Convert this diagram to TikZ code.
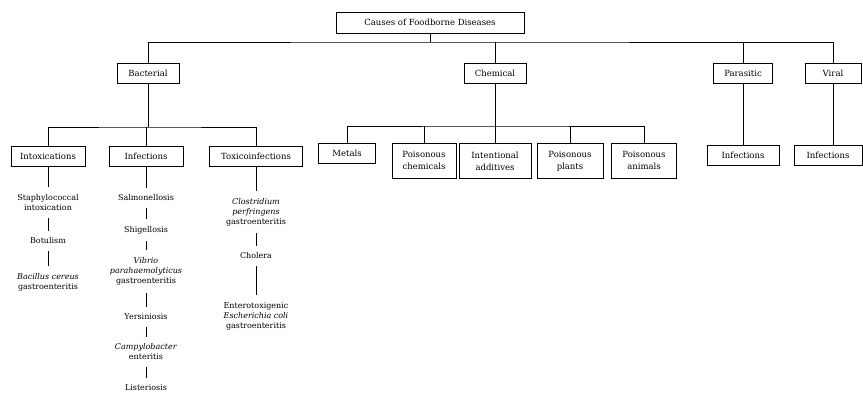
\documentclass[tikz,border=0pt]{standalone}
\usepackage{fontspec}
\setmainfont{DejaVu Serif}
\usepackage{tikz}

\tikzset{
  box/.style={draw, line width=0.7pt, align=center, minimum height=20pt, inner sep=2pt, font=\fontsize{8.5}{12}\selectfont},
  leaf/.style={align=center, inner sep=1pt, font=\fontsize{8}{10}\selectfont},
  stem/.style={line width=0.7pt, shorten >=6pt},
  chain/.style={line width=0.7pt, shorten <=6pt, shorten >=6pt},
}

\begin{document}
\begin{tikzpicture}[x=1pt,y=-1pt]
\useasboundingbox (0,0) rectangle (863,393);

% top of the tree
\node[box, minimum width=188, minimum height=21] (root) at (430,22.5) {Causes of Foodborne Diseases};

\node[box, minimum width=62] (bac) at (148,73) {Bacterial};
\node[box, minimum width=62] (chem) at (495,73) {Chemical};
\node[box, minimum width=59] (para) at (743,73) {Parasitic};
\node[box, minimum width=56] (vir) at (833,73) {Viral};

\coordinate (bus1) at (430,42);
\draw[line width=0.7pt] (root.south) -- (bus1);
\draw[line width=0.7pt] (bac.north) |- (bus1) -| (vir.north);
\draw[line width=0.7pt] (bus1 -| chem.north) -- (chem.north);
\draw[line width=0.7pt] (bus1 -| para.north) -- (para.north);

% bacterial
\node[box, minimum width=74] (intox) at (48,156) {Intoxications};
\node[box, minimum width=74] (binf) at (146,156) {Infections};
\node[box, minimum width=93] (toxi) at (256,156) {Toxicoinfections};

\coordinate (bus2) at (148,127);
\draw[line width=0.7pt] (bac.south) -- (bus2);
\draw[line width=0.7pt] (intox.north) |- (bus2) -| (toxi.north);
\draw[line width=0.7pt] (binf.north) -- (binf.north |- bus2);

% chemical
\node[box, minimum width=57, anchor=north] (metal) at (347,143) {Metals};
\node[box, minimum width=64, minimum height=35, anchor=north] (pchem) at (424,143) {Poisonous\\chemicals};
\node[box, minimum width=72, minimum height=35, anchor=north] (addit) at (495,143) {Intentional\\additives};
\node[box, minimum width=66, minimum height=35, anchor=north] (plant) at (570,143) {Poisonous\\plants};
\node[box, minimum width=65, minimum height=35, anchor=north] (anim) at (644,143) {Poisonous\\animals};

\coordinate (bus3) at (495,126);
\draw[line width=0.7pt] (chem.south) -- (addit.north);
\draw[line width=0.7pt] (metal.north) |- (bus3) -| (anim.north);
\draw[line width=0.7pt] (pchem.north) -- (pchem.north |- bus3);
\draw[line width=0.7pt] (plant.north) -- (plant.north |- bus3);

% parasitic and viral
\node[box, minimum width=72] (pinf) at (743,155) {Infections};
\node[box, minimum width=68] (vinf) at (828,155.5) {Infections};
\draw[line width=0.7pt] (para.south) -- (pinf.north);
\draw[line width=0.7pt] (vir.south) -- (vir.south |- vinf.north);

% intoxications
\node[leaf] (staph) at (48,202.5) {Staphylococcal\\intoxication};
\node[leaf] (botu) at (48,241) {Botulism};
\node[leaf] (bcer) at (48,282) {\textit{Bacillus cereus}\\gastroenteritis};
\draw[stem] (intox.south) -- (staph.north);
\draw[chain] (staph.south) -- (botu.north);
\draw[chain] (botu.south) -- (bcer.north);

% infections
\node[leaf] (salm) at (146,198) {Salmonellosis};
\node[leaf] (shig) at (146,230) {Shigellosis};
\node[leaf] (vibr) at (146,271.5) {\textit{Vibrio}\\\textit{parahaemolyticus}\\gastroenteritis};
\node[leaf] (yers) at (146,317) {Yersiniosis};
\node[leaf] (camp) at (146,352) {\textit{Campylobacter}\\enteritis};
\node[leaf] (list) at (146,388) {Listeriosis};
\draw[stem] (binf.south) -- (salm.north);
\draw[chain] (salm.south) -- (shig.north);
\draw[chain] (shig.south) -- (vibr.north);
\draw[chain] (vibr.south) -- (yers.north);
\draw[chain] (yers.south) -- (camp.north);
\draw[chain] (camp.south) -- (list.north);

% toxicoinfections
\node[leaf] (clos) at (256,212) {\textit{Clostridium}\\\textit{perfringens}\\gastroenteritis};
\node[leaf] (chol) at (256,256) {Cholera};
\node[leaf] (ecol) at (256,316) {Enterotoxigenic\\\textit{Escherichia coli}\\gastroenteritis};
\draw[stem] (toxi.south) -- (clos.north);
\draw[chain] (clos.south) -- (chol.north);
\draw[chain] (chol.south) -- (ecol.north);

\end{tikzpicture}
\end{document}
